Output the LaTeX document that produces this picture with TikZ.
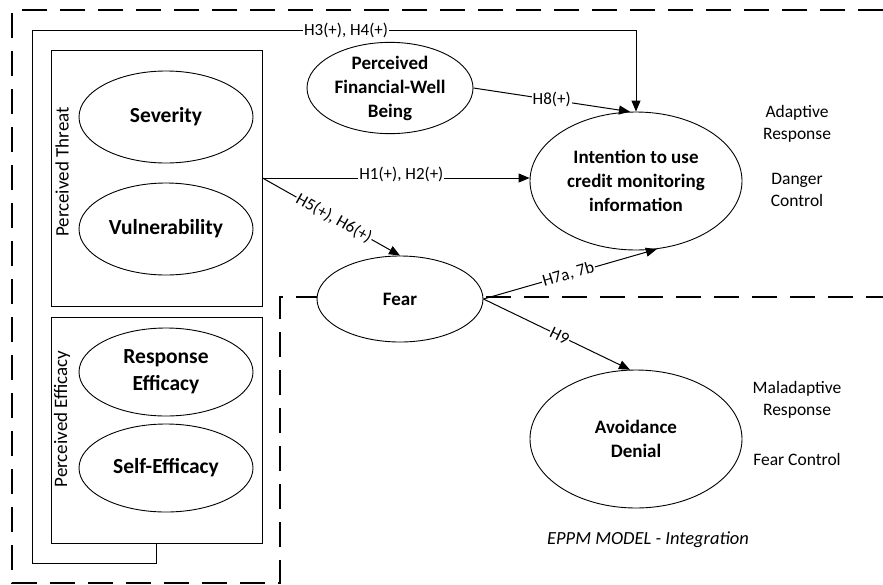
\documentclass[tikz,border=0pt]{standalone}
\usepackage{fontspec}
\setmainfont{Carlito}
\usetikzlibrary{shapes.geometric,arrows.meta}
\begin{document}
\begin{tikzpicture}[x=1pt,y=-1pt,
  construct/.style={ellipse,draw,line width=0.9pt,fill=white,inner sep=0pt,align=center,
    font=\fontsize{19}{24}\selectfont\bfseries},
  bigtext/.style={font=\fontsize{21.5}{27}\selectfont\bfseries},
  groupbox/.style={rectangle,draw,line width=1pt,inner sep=0pt},
  grouplabel/.style={rotate=90,font=\fontsize{19}{21}\selectfont},
  link/.style={line width=1pt,-{Triangle[length=11pt,width=9pt]}},
  hyp/.style={font=\fontsize{17}{19}\selectfont,fill=white,inner sep=1pt},
  region/.style={line width=1.2pt,dash pattern=on 25pt off 13pt},
  note/.style={align=center,font=\fontsize{17.5}{22}\selectfont}
]
\useasboundingbox (0,0) rectangle (883,584);

% dashed region boundaries
\draw[region] (883,10) -- (12,10) -- (12,583) -- (280,583) -- (280,297) -- (883,297);

% construct groups
\node[groupbox,minimum width=211pt,minimum height=256pt] (threatbox) at (156.5,178) {};
\node[groupbox,minimum width=211pt,minimum height=226pt] (efficacybox) at (156.5,430) {};
\node[grouplabel] (threatlbl) at (62,172) {Perceived Threat};
\node[grouplabel] (efficacylbl) at (62,419) {Perceived Efficacy};

% constructs
\node[construct,bigtext,minimum width=174pt,minimum height=92pt] (severity) at (166,117) {Severity};
\node[construct,bigtext,minimum width=174pt,minimum height=92pt] (vulner) at (166,229) {Vulnerability};
\node[construct,bigtext,minimum width=174pt,minimum height=88pt] (respeff) at (166,372) {Response\\Efficacy};
\node[construct,bigtext,minimum width=174pt,minimum height=88pt] (selfeff) at (166,468) {Self-Efficacy};
\node[construct,minimum width=166pt,minimum height=88pt] (finwell) at (390,88) {Perceived\\Financial-Well\\Being};
\node[construct,minimum width=166pt,minimum height=86pt] (fear) at (400,299) {Fear};
\node[construct,minimum width=212pt,minimum height=138pt] (intention) at (636,181) {Intention to use\\credit monitoring\\information};
\node[construct,minimum width=212pt,minimum height=138pt] (avoid) at (636,439) {Avoidance\\Denial};

% hypothesised paths
\coordinate (c1) at (32,563);
\coordinate (c2) at (32,30);
\draw[link] (efficacybox.south) |- (c1) -- (c2) -| (intention.north)
  node[hyp,pos=0.26] {H3(+), H4(+)};
\draw[link] (threatbox.east) -- (threatbox.east -| intention.west)
  node[hyp,pos=0.52,yshift=4pt] {H1(+), H2(+)};
\draw[link] (threatbox.east) -- (fear.north)
  node[hyp,pos=0.52,sloped] {H5(+), H6(+)};
\draw[link] (finwell.east) -- (intention.95)
  node[hyp,pos=0.5] {H8(+)};
\draw[link] (fear.east) -- (intention.-73)
  node[hyp,pos=0.49,sloped] {H7a, 7b};
\draw[link] (fear.east) -- (avoid.95)
  node[hyp,pos=0.52,sloped] {H9};

% response annotations
\node[note] (adaptive) at (797,124) {Adaptive\\Response};
\node[note] (danger) at (797,190) {Danger\\Control};
\node[note] (maladaptive) at (797,400) {Maladaptive\\Response};
\node[note] (fearctl) at (797,459) {Fear Control};
\node[font=\fontsize{18.5}{20}\selectfont\itshape] (title) at (648,540) {EPPM MODEL - Integration};
\end{tikzpicture}
\end{document}
